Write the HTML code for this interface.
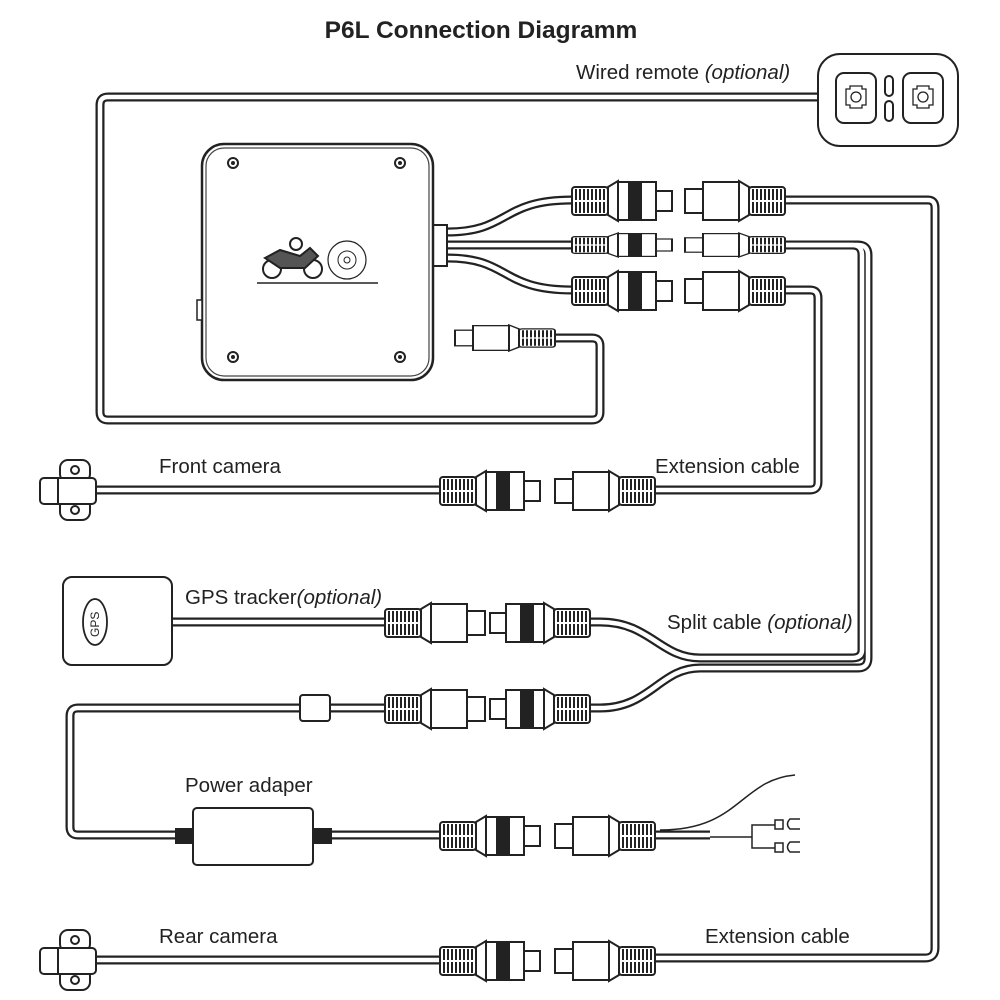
<!DOCTYPE html>
<html><head><meta charset="utf-8"><style>
html,body{margin:0;padding:0;background:#fff}
svg{display:block}
text{font-family:"Liberation Sans",sans-serif;fill:#222}
</style></head><body>
<svg width="1000" height="1000" viewBox="0 0 1000 1000" xmlns="http://www.w3.org/2000/svg">
<defs>
<g id="grip">
<rect x="0" y="6" width="36" height="28" rx="3" fill="#fff" stroke="#222" stroke-width="2"/>
<path d="M4 8V32M8 8V32M12 8V32M16 8V32M20 8V32M24 8V32M28 8V32M32 8V32" stroke="#222" stroke-width="2"/>
<path d="M2 20H34" stroke="#fff" stroke-width="2"/>
</g>
<g id="plugB">
<use href="#grip"/>
<polygon points="36,6 46,0 46,40 36,34" fill="#fff" stroke="#222" stroke-width="2"/>
<rect x="46" y="1" width="38" height="38" fill="#fff" stroke="#222" stroke-width="2"/>
<rect x="56" y="1" width="14" height="38" fill="#222"/>
<rect x="84" y="10" width="16" height="20" fill="#fff" stroke="#222" stroke-width="2"/>
</g>
<g id="plugN">
<use href="#grip"/>
<polygon points="36,6 46,0 46,40 36,34" fill="#fff" stroke="#222" stroke-width="2"/>
<rect x="46" y="1" width="36" height="38" fill="#fff" stroke="#222" stroke-width="2"/>
<rect x="82" y="8" width="18" height="24" fill="#fff" stroke="#222" stroke-width="2"/>
</g>
</defs>

<text x="481" y="38" font-size="24.5" font-weight="bold" text-anchor="middle">P6L Connection Diagramm</text>

<g fill="none" stroke="#222" stroke-width="9" stroke-linejoin="round">
<path id="c1" d="M820 97H108Q100 97 100 105V412Q100 420 108 420H592Q600 420 600 412V346Q600 338 592 338H555"/>
<path id="c2" d="M785 200H928Q935 200 935 208V948Q935 958 925 958H655"/>
<path id="c3" d="M785 245H852Q862 245 862 255V650Q862 658 852 658H700C660 658 650 622 600 622H590"/>
<path id="c4" d="M785 245H858Q868 245 868 255V658Q868 668 858 668H700C660 668 650 708 600 708H590"/>
<path id="c5" d="M785 290H810Q818 290 818 298V482Q818 490 810 490H655"/>
<path id="c6" d="M447 232C510 232 500 200 572 200"/>
<path id="c7" d="M447 245H572"/>
<path id="c8" d="M447 258C510 258 500 290 572 290"/>
<path id="c9" d="M95 490H440"/>
<path id="c10" d="M172 622H385"/>
<path id="c11" d="M385 708H78Q70 708 70 716V827Q70 835 78 835H440"/>
<path id="c12" d="M95 960H440"/>
<path id="c13" d="M655 835H710"/>
</g>
<g fill="none" stroke="#fff" stroke-width="4.5" stroke-linejoin="round">
<use href="#c1"/><use href="#c2"/><use href="#c3"/><use href="#c4"/><use href="#c5"/><use href="#c6"/><use href="#c7"/><use href="#c8"/><use href="#c9"/><use href="#c10"/><use href="#c11"/><use href="#c12"/><use href="#c13"/>
</g>
<g fill="none" stroke="#222" stroke-width="1.5">
<path d="M660 830C740 830 740 780 795 775"/>
<path d="M710 837H752V825H775M752 837V848H775"/>
<rect x="775" y="820" width="8" height="9"/><rect x="775" y="843" width="8" height="9"/>
<path d="M800 819H790Q785 824 790 829H800M800 842H790Q785 847 790 852H800"/>
</g>

<use href="#plugB" transform="translate(572,181)"/>
<use href="#plugB" transform="translate(572,233) scale(1,0.6)"/>
<use href="#plugB" transform="translate(572,271)"/>
<use href="#plugN" transform="translate(785,181) scale(-1,1)"/>
<use href="#plugN" transform="translate(785,233) scale(-1,0.6)"/>
<use href="#plugN" transform="translate(785,271) scale(-1,1)"/>
<use href="#plugN" transform="translate(555,325) scale(-1,0.65)"/>
<use href="#plugB" transform="translate(440,471)"/>
<use href="#plugN" transform="translate(655,471) scale(-1,1)"/>
<use href="#plugN" transform="translate(385,603)"/>
<use href="#plugB" transform="translate(590,603) scale(-1,1)"/>
<use href="#plugN" transform="translate(385,689)"/>
<use href="#plugB" transform="translate(590,689) scale(-1,1)"/>
<use href="#plugB" transform="translate(440,816)"/>
<use href="#plugN" transform="translate(655,816) scale(-1,1)"/>
<use href="#plugB" transform="translate(440,941)"/>
<use href="#plugN" transform="translate(655,941) scale(-1,1)"/>

<rect x="300" y="695" width="30" height="26" rx="3" fill="#fff" stroke="#222" stroke-width="2"/>

<rect x="432" y="225" width="15" height="41" fill="#fff" stroke="#222" stroke-width="2"/>
<rect x="202" y="144" width="231" height="236" rx="22" fill="#fff" stroke="#222" stroke-width="2.5"/>
<rect x="206" y="148" width="223" height="228" rx="18" fill="none" stroke="#444" stroke-width="1.2"/>
<rect x="197" y="300" width="5" height="20" fill="#fff" stroke="#222" stroke-width="1.5"/>
<g fill="#fff" stroke="#222" stroke-width="2">
<circle cx="233" cy="163" r="5"/><circle cx="400" cy="163" r="5"/><circle cx="233" cy="357" r="5"/><circle cx="400" cy="357" r="5"/>
</g>
<g fill="#222"><circle cx="233" cy="163" r="2"/><circle cx="400" cy="163" r="2"/><circle cx="233" cy="357" r="2"/><circle cx="400" cy="357" r="2"/></g>
<line x1="257" y1="283" x2="378" y2="283" stroke="#222" stroke-width="1.5"/>
<g stroke="#222" stroke-width="2" fill="#fff">
<circle cx="272" cy="269" r="9"/><circle cx="313" cy="269" r="9"/>
<path d="M265 258L280 250L300 256L310 248L318 256L305 268L280 268Z" fill="#555"/>
<circle cx="296" cy="244" r="6" fill="#fff"/>
<circle cx="347" cy="260" r="19" stroke-width="1.2"/>
<circle cx="347" cy="260" r="9" stroke-width="1"/>
<circle cx="347" cy="260" r="3" stroke-width="1"/>
</g>

<g fill="#fff" stroke="#222" stroke-width="2">
<rect x="818" y="54" width="140" height="92" rx="22"/>
<rect x="836" y="73" width="40" height="50" rx="8"/>
<rect x="903" y="73" width="40" height="50" rx="8"/>
<rect x="885" y="76" width="8" height="20" rx="4"/>
<rect x="885" y="101" width="8" height="20" rx="4"/>
<path d="M846 89H850V86H862V89H866V105H862V108H850V105H846Z" stroke-width="1.3"/>
<path d="M913 89H917V86H929V89H933V105H929V108H917V105H913Z" stroke-width="1.3"/>
<circle cx="856" cy="97" r="5" stroke-width="1.3"/><circle cx="923" cy="97" r="5" stroke-width="1.3"/>
</g>

<g fill="#fff" stroke="#222" stroke-width="2">
<rect x="60" y="460" width="30" height="22" rx="8"/><circle cx="75" cy="470" r="4"/>
<rect x="60" y="498" width="30" height="22" rx="8"/><circle cx="75" cy="510" r="4"/>
<rect x="40" y="478" width="56" height="26" rx="4"/>
<path d="M58 478V504"/>
<rect x="60" y="930" width="30" height="22" rx="8"/><circle cx="75" cy="940" r="4"/>
<rect x="60" y="968" width="30" height="22" rx="8"/><circle cx="75" cy="980" r="4"/>
<rect x="40" y="948" width="56" height="26" rx="4"/>
<path d="M58 948V974"/>
</g>

<rect x="63" y="577" width="109" height="88" rx="9" fill="#fff" stroke="#222" stroke-width="2"/>
<ellipse cx="95" cy="622" rx="12" ry="23" fill="#fff" stroke="#222" stroke-width="1.8"/>
<text x="0" y="0" font-size="12" transform="translate(99,637) rotate(-90)">GPS</text>

<rect x="175" y="828" width="20" height="16" fill="#222"/>
<rect x="312" y="828" width="20" height="16" fill="#222"/>
<rect x="193" y="808" width="120" height="57" rx="4" fill="#fff" stroke="#222" stroke-width="2"/>

<g font-size="20.5">
<text x="576" y="79">Wired remote <tspan font-style="italic">(optional)</tspan></text>
<text x="159" y="473">Front camera</text>
<text x="655" y="473">Extension cable</text>
<text x="185" y="604">GPS tracker<tspan font-style="italic">(optional)</tspan></text>
<text x="667" y="629">Split cable <tspan font-style="italic">(optional)</tspan></text>
<text x="185" y="792">Power adaper</text>
<text x="159" y="943">Rear camera</text>
<text x="705" y="943">Extension cable</text>
</g>
</svg>
</body></html>
